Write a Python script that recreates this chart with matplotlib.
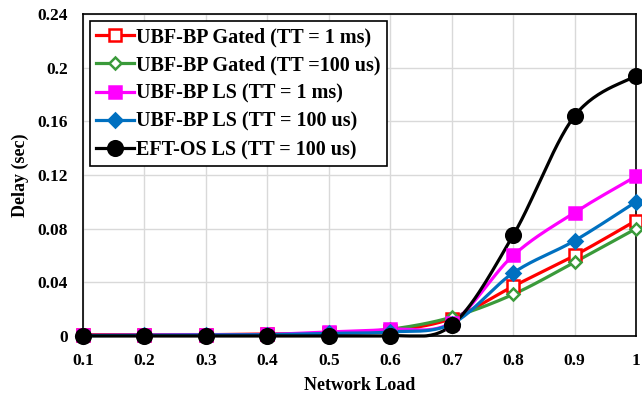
import numpy as np
import matplotlib
matplotlib.use("Agg")
import matplotlib.pyplot as plt

plt.rcParams['font.family'] = ['Liberation Serif', 'DejaVu Serif']
plt.rcParams['font.weight'] = 'bold'

# data
load = [0.1, 0.2, 0.3, 0.4, 0.5, 0.6, 0.7, 0.8, 0.9, 1.0]
gated_1ms = [0.001, 0.001, 0.001, 0.0015, 0.002, 0.004, 0.013, 0.037, 0.060, 0.086]
gated_100us = [0.0005, 0.0005, 0.001, 0.001, 0.002, 0.005, 0.014, 0.031, 0.055, 0.080]
ls_1ms = [0.0005, 0.0008, 0.001, 0.0012, 0.003, 0.005, 0.010, 0.060, 0.092, 0.119]
ls_100us = [0.0003, 0.0005, 0.0007, 0.001, 0.002, 0.003, 0.009, 0.047, 0.071, 0.100]
eft_100us = [0.0, 0.0, 0.0, 0.0, 0.0, 0.0, 0.008, 0.075, 0.164, 0.194]

labels = ["UBF-BP Gated (TT = 1 ms)", "UBF-BP Gated (TT =100 us)",
          "UBF-BP LS (TT = 1 ms)", "UBF-BP LS (TT = 100 us)",
          "EFT-OS LS (TT = 100 us)"]
series = [gated_1ms, gated_100us, ls_1ms, ls_100us, eft_100us]
colors = ["#FF0000", "#3A9A3A", "#FF00FF", "#0070C0", "#000000"]
markers = ["s", "D", "s", "D", "o"]
filled = [False, False, True, True, True]
msizes = [9, 6, 9, 7, 10.5]


def smooth(x, y, n=30):
    # Catmull-Rom through points, in normalised space (like Excel smoothing)
    x = np.asarray(x, float)
    y = np.asarray(y, float)
    sx, sy = 0.9, 0.24 * 0.58
    px, py = x / sx, y / sy
    P = np.column_stack([px, py])
    P = np.vstack([P[0], P, P[-1]])
    out = []
    for i in range(1, len(P) - 2):
        p0, p1, p2, p3 = P[i - 1], P[i], P[i + 1], P[i + 2]
        t = np.linspace(0, 1, n)[:, None]
        c1 = p1 + (p2 - p0) / 6
        c2 = p2 - (p3 - p1) / 6
        seg = ((1 - t) ** 3) * p1 + 3 * ((1 - t) ** 2) * t * c1 + 3 * (1 - t) * t ** 2 * c2 + t ** 3 * p2
        out.append(seg if i == 1 else seg[1:])
    out = np.vstack(out)
    return out[:, 0] * sx, np.maximum(out[:, 1] * sy, 0)


fig = plt.figure(figsize=(6.42, 3.95), dpi=100)
ax = fig.add_axes([0.1293, 0.1494, 0.8614, 0.8152])

handles = []
for y, lab, c, m, f, ms in zip(series, labels, colors, markers, filled, msizes):
    xs, ys = smooth(load, y)
    ax.plot(xs, ys, color=c, lw=2.3, zorder=3, clip_on=False)
    ax.plot(load, y, linestyle='none', marker=m, markersize=ms,
            markerfacecolor=c if f else 'white', markeredgecolor=c,
            markeredgewidth=1.8, zorder=4, clip_on=False)
    h, = ax.plot([], [], color=c, lw=2.3, marker=m, markersize=ms,
                 markerfacecolor=c if f else 'white', markeredgecolor=c,
                 markeredgewidth=1.8, label=lab)
    handles.append(h)

ax.set_xlim(0.1, 1.0)
ax.set_ylim(0, 0.24)
ax.set_xticks(load)
ax.set_xticklabels(["0.1", "0.2", "0.3", "0.4", "0.5", "0.6", "0.7", "0.8", "0.9", "1"])
ax.set_yticks([0, 0.04, 0.08, 0.12, 0.16, 0.2, 0.24])
ax.set_yticklabels(["0", "0.04", "0.08", "0.12", "0.16", "0.2", "0.24"])
ax.tick_params(length=0, labelsize=12.5)
ax.tick_params(axis='x', pad=12)
ax.tick_params(axis='y', pad=11)
for lab in ax.get_xticklabels() + ax.get_yticklabels():
    lab.set_fontweight('bold')
ax.grid(True, color='#D9D9D9', lw=1.0, zorder=0)
ax.set_axisbelow(True)
for s in ax.spines.values():
    s.set_color('black')
    s.set_linewidth(1.2)

ax.set_xlabel("Network Load", fontsize=13, fontweight='bold', labelpad=6)
ax.set_ylabel("Delay (sec)", fontsize=13, fontweight='bold', labelpad=6)

leg = ax.legend(handles=handles, loc='upper left', bbox_to_anchor=(0.012, 0.978),
                prop={'size': 14.5, 'weight': 'bold'}, frameon=True, fancybox=False,
                handlelength=1.9, handletextpad=0.1, labelspacing=0.41,
                borderpad=0.3, borderaxespad=0)
leg.get_frame().set_edgecolor('black')
leg.get_frame().set_linewidth(1.2)
leg.get_frame().set_alpha(1)

fig.savefig("out.png", dpi=100)
